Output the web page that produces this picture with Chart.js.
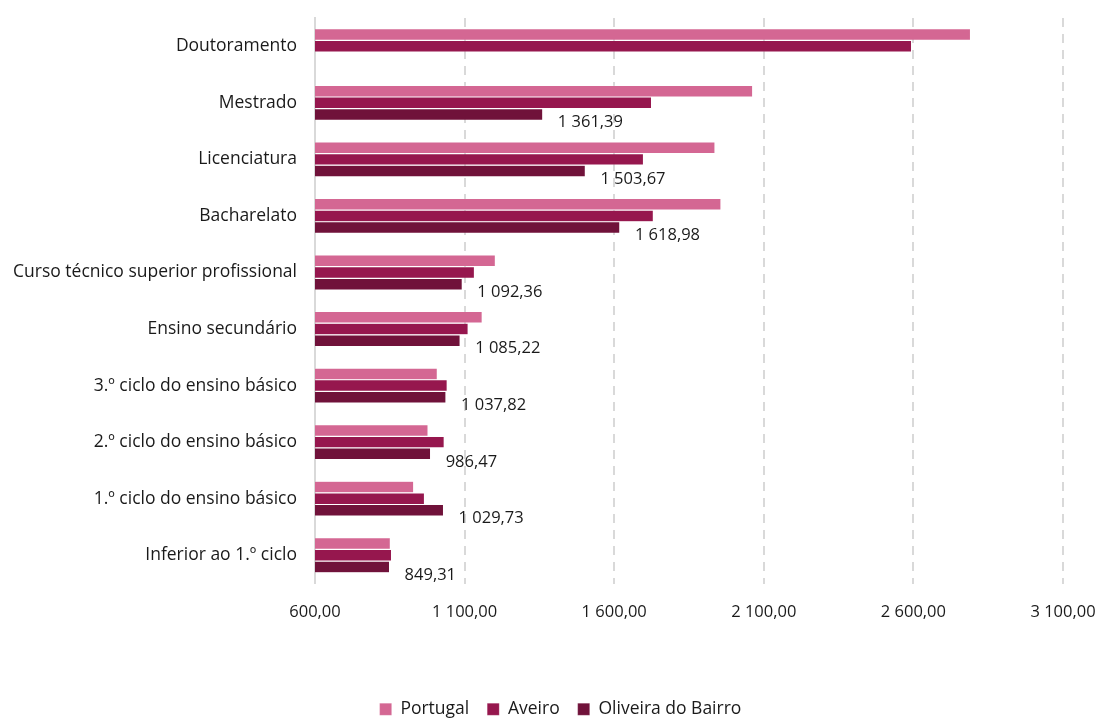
<!DOCTYPE html>
<html>
<head>
<meta charset="utf-8">
<script src="https://cdn.jsdelivr.net/npm/chart.js@4/dist/chart.umd.min.js"></script>
<style>
  html, body { margin: 0; padding: 0; background: #fff; }
  #wrap { width: 1120px; height: 718px; position: relative; }
</style>
</head>
<body>
<div id="wrap"><canvas id="barChart"></canvas></div>
<script>
const categories = [
  "Doutoramento",
  "Mestrado",
  "Licenciatura",
  "Bacharelato",
  "Curso técnico superior profissional",
  "Ensino secundário",
  "3.º ciclo do ensino básico",
  "2.º ciclo do ensino básico",
  "1.º ciclo do ensino básico",
  "Inferior ao 1.º ciclo"
];
const portugal = [2791, 2063, 1937, 1957, 1203, 1159, 1009, 978, 930, 852];
const aveiro = [2594, 1725, 1698, 1731, 1133, 1112, 1042, 1032, 966, 856];
const oliveira = [null, 1361.39, 1503.67, 1618.98, 1092.36, 1085.22, 1037.82, 986.47, 1029.73, 849.31];

const seriesNames = ["Portugal", "Aveiro", "Oliveira do Bairro"];
const colors = ["#d46793", "#96174e", "#70123a"];

const FONT = "'Open Sans', 'Noto Sans', sans-serif";

function fmt(v) {
  const parts = v.toFixed(2).split(".");
  const intPart = parts[0].replace(/\B(?=(\d{3})+(?!\d))/g, " ");
  return intPart + "," + parts[1];
}

// labels after the Oliveira do Bairro bars, a bit to the right and below
const valueLabels = {
  id: "valueLabels",
  afterDatasetsDraw(chart) {
    const ctx = chart.ctx;
    const meta = chart.getDatasetMeta(2);
    ctx.save();
    ctx.font = "16.5px " + FONT;
    ctx.fillStyle = "#1a1a1a";
    ctx.textAlign = "left";
    ctx.textBaseline = "middle";
    meta.data.forEach((bar, i) => {
      const v = oliveira[i];
      if (v == null) return;
      ctx.fillText(fmt(v), bar.x + 15, bar.y + 8);
    });
    ctx.restore();
  }
};

// legend sits a bit right of the canvas centre in the original
const legendShift = {
  id: "legendShift",
  afterLayout(chart) {
    if (chart.legend) chart.legend.left += 58;
  }
};

const ctx = document.getElementById("barChart").getContext("2d");

new Chart(ctx, {
  type: "bar",
  data: {
    labels: categories,
    datasets: [portugal, aveiro, oliveira].map((d, i) => ({
      label: seriesNames[i],
      data: d,
      backgroundColor: colors[i],
      borderColor: "rgba(255,255,255,0.3)",
      borderWidth: 0.6,
      categoryPercentage: 0.62,
      barPercentage: 1
    }))
  },
  options: {
    indexAxis: "y",
    responsive: true,
    maintainAspectRatio: false,
    animation: false,
    layout: { padding: { top: 18, right: 57, left: 0, bottom: -10 } },
    scales: {
      x: {
        min: 600,
        max: 3100,
        ticks: {
          stepSize: 500,
          padding: 19,
          color: "#1a1a1a",
          font: { family: FONT, size: 16.5 },
          callback: v => fmt(v)
        },
        grid: {
          color: "#d9d9d9",
          lineWidth: 2,
          drawTicks: false
        },
        border: { display: false, dash: [9, 7] },
        afterFit: axis => { axis.height = 99; }
      },
      y: {
        ticks: {
          padding: 18,
          color: "#1a1a1a",
          font: { family: FONT, size: 17.5 }
        },
        grid: { display: false, drawTicks: false },
        border: { display: true, color: "#d9d9d9", width: 2 },
        afterFit: axis => {
          axis.width = 315;
          axis.paddingTop = 0;
          axis.paddingBottom = 0;
        }
      }
    },
    plugins: {
      legend: {
        position: "bottom",
        labels: {
          boxWidth: 12,
          boxHeight: 12,
          padding: 18,
          color: "#1a1a1a",
          font: { family: FONT, size: 17.5 }
        }
      },
      tooltip: { enabled: false }
    }
  },
  plugins: [valueLabels, legendShift]
});
</script>
</body>
</html>
